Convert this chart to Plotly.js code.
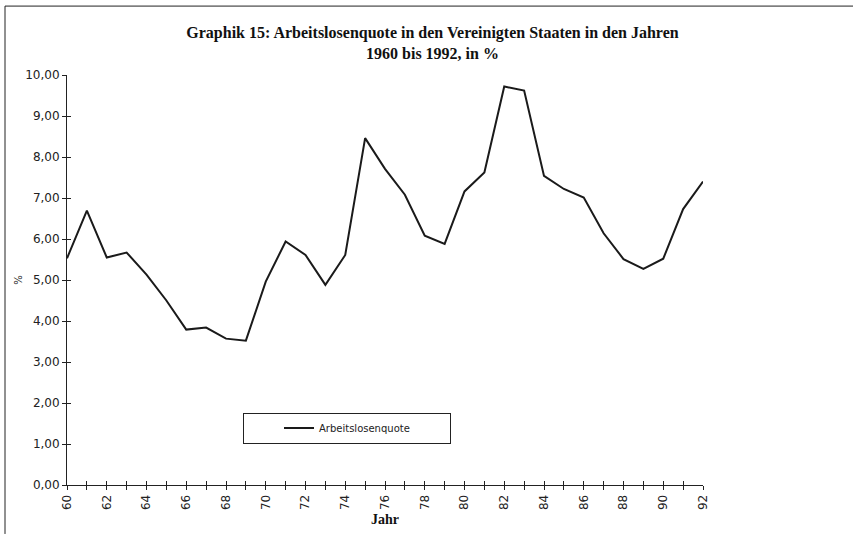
<!DOCTYPE html>
<html>
<head>
<meta charset="utf-8">
<script src="https://cdn.plot.ly/plotly-3.0.1.min.js"></script>
<style>
  html, body { margin: 0; padding: 0; background: #fff; }
  #chart { width: 853px; height: 535px; }
</style>
</head>
<body>
<div id="chart"></div>
<script>
const years = [60,61,62,63,64,65,66,67,68,69,70,71,72,73,74,75,76,77,78,79,80,81,82,83,84,85,86,87,88,89,90,91,92];
const quote = [5.53,6.69,5.55,5.67,5.13,4.50,3.79,3.84,3.57,3.52,4.96,5.94,5.61,4.88,5.61,8.46,7.71,7.08,6.08,5.88,7.16,7.62,9.72,9.62,7.54,7.22,7.01,6.14,5.51,5.27,5.52,6.73,7.40];
const seriesName = "Arbeitslosenquote";
const titleText = "Graphik 15: Arbeitslosenquote in den Vereinigten Staaten in den Jahren<br>1960 bis 1992, in %";
const xTitle = "Jahr";
const yTitle = "%";
const yTicks = [0,1,2,3,4,5,6,7,8,9,10];

const xTickText = years.map(y => (y % 2 === 0 ? String(y) : ""));

const data = [
  {
    x: years, y: quote, type: "scatter", mode: "lines",
    name: seriesName,
    line: { color: "#1a1a1a", width: 2 },
    showlegend: true
  },
  {
    x: years, y: quote, type: "scatter", mode: "lines",
    xaxis: "x2", yaxis: "y2",
    line: { color: "rgba(0,0,0,0)", width: 0 },
    showlegend: false, hoverinfo: "skip"
  }
];

const axFont = { family: "DejaVu Sans, sans-serif", size: 12, color: "#222" };

const layout = {
  width: 853, height: 535,
  paper_bgcolor: "#fff", plot_bgcolor: "#fff",
  separators: ",.",
  margin: { l: 67, r: 150, t: 75, b: 50, pad: 0 },
  title: {
    text: titleText,
    font: { family: "Liberation Serif, serif", size: 16, color: "#111", weight: "bold" },
    x: 432.5 / 853, xanchor: "center", xref: "container",
    y: 1 - 38/535, yanchor: "top", yref: "container"
  },
  xaxis: {
    range: [60, 92], showgrid: false, zeroline: false,
    showline: true, linecolor: "#222", linewidth: 1,
    tickmode: "array", tickvals: years, ticktext: xTickText,
    ticks: "outside", ticklen: 4, tickcolor: "#222", tickwidth: 1,
    tickangle: -90, tickfont: axFont,
    title: { text: xTitle, font: { family: "Liberation Serif, serif", size: 14, color: "#111", weight: "bold" }, standoff: 5 }
  },
  yaxis: {
    range: [0, 10], showgrid: false, zeroline: false,
    showline: true, linecolor: "#222", linewidth: 1,
    tickmode: "array", tickvals: yTicks, tickformat: ".2f",
    ticks: "outside", ticklen: 4, tickcolor: "#222", tickwidth: 1,
    tickfont: axFont,
    title: { text: yTitle, font: { family: "DejaVu Sans, sans-serif", size: 10, color: "#222" }, standoff: 0 }
  },
  xaxis2: {
    overlaying: "x", matches: "x", range: [60, 92], showgrid: false, zeroline: false,
    showline: false, tickmode: "array", tickvals: years, showticklabels: false,
    ticks: "inside", ticklen: 4, tickcolor: "#222", tickwidth: 1
  },
  yaxis2: {
    overlaying: "y", matches: "y", range: [0, 10], showgrid: false, zeroline: false,
    showline: false, tickmode: "array", tickvals: yTicks, showticklabels: false,
    ticks: "inside", ticklen: 4, tickcolor: "#222", tickwidth: 1
  },
  showlegend: true,
  legend: {
    x: (243 - 67) / 636, y: (485.5 - 413) / 410.5,
    xanchor: "left", yanchor: "top",
    orientation: "h", entrywidth: 126, indentation: 35,
    bgcolor: "#fff", bordercolor: "#222", borderwidth: 1,
    font: { family: "DejaVu Sans, sans-serif", size: 10, color: "#222" }
  },
  shapes: [
    { type: "line", xref: "paper", yref: "paper", x0: -62/636, x1: 1 + 150/636, y0: 1 + 69/410.5, y1: 1 + 69/410.5, line: { color: "#222", width: 1 } },
    { type: "line", xref: "paper", yref: "paper", x0: -62/636, x1: -62/636, y0: 1 + 69/410.5, y1: -49/410.5, line: { color: "#222", width: 1 } }
  ]
};

Plotly.newPlot("chart", data, layout, { displayModeBar: false, staticPlot: true });
</script>
</body>
</html>
